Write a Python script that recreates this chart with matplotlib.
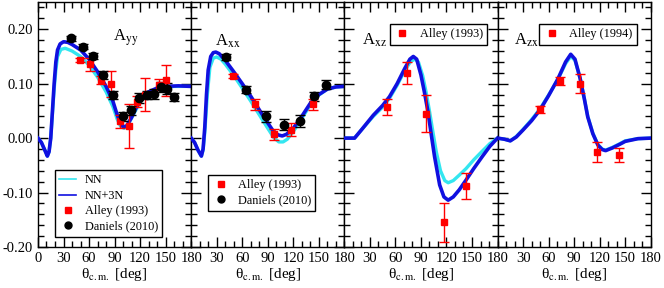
import numpy as np
import matplotlib
matplotlib.use("Agg")
import matplotlib.pyplot as plt
from matplotlib.ticker import MultipleLocator
from matplotlib.lines import Line2D

plt.rcParams['font.family'] = ['Liberation Serif', 'DejaVu Serif']
plt.rcParams['mathtext.fontset'] = 'stix'

# ---- theory curves ----
# A_yy
yy_th = [0, 4, 8, 11, 13, 15, 17, 19, 21, 23, 26, 30, 35, 40, 50, 60, 70, 80, 88, 92, 96,
         100, 104, 110, 115, 120, 130, 140, 150, 165, 180]
yy_3n = [0.0, -0.008, -0.022, -0.033, -0.025, 0.0, 0.05, 0.10, 0.14, 0.162, 0.173, 0.177, 0.176,
         0.172, 0.162, 0.145, 0.122, 0.095, 0.068, 0.048, 0.030, 0.021, 0.022, 0.038, 0.055,
         0.068, 0.085, 0.092, 0.095, 0.096, 0.095]
yy_nn_th = [0, 4, 8, 11, 13, 15, 17, 19, 21, 23, 27, 32, 40, 50, 60, 70, 80, 88, 93, 97, 101,
            105, 110, 120, 130, 140, 160, 180]
yy_nn = [0.0, -0.008, -0.022, -0.033, -0.025, 0.0, 0.045, 0.09, 0.125, 0.15, 0.163, 0.165, 0.160,
         0.150, 0.134, 0.112, 0.085, 0.058, 0.035, 0.022, 0.018, 0.022, 0.037, 0.066, 0.083,
         0.091, 0.095, 0.095]

# A_xx
xx_th = [0, 4, 8, 12, 14, 16, 18, 20, 23, 26, 29, 33, 40, 50, 60, 70, 80, 90, 96, 102, 107,
         112, 120, 130, 140, 150, 160, 170, 180]
xx_3n = [0.0, -0.008, -0.022, -0.033, -0.02, 0.02, 0.08, 0.125, 0.15, 0.157, 0.158, 0.155, 0.143,
         0.122, 0.100, 0.077, 0.052, 0.028, 0.014, 0.006, 0.004, 0.007, 0.018, 0.040, 0.064,
         0.080, 0.090, 0.094, 0.095]
xx_nn_th = [0, 4, 8, 12, 14, 16, 19, 22, 26, 30, 35, 40, 50, 60, 70, 80, 90, 97, 103, 108,
            113, 120, 130, 140, 150, 160, 170, 180]
xx_nn = [0.0, -0.008, -0.022, -0.033, -0.022, 0.01, 0.08, 0.13, 0.147, 0.149, 0.145, 0.136,
         0.115, 0.092, 0.068, 0.043, 0.018, 0.001, -0.007, -0.007, -0.002, 0.012, 0.036, 0.061,
         0.079, 0.090, 0.094, 0.095]

# A_xz
xz_th = [0, 6, 12, 20, 34, 45, 53, 62, 71, 77, 81, 85, 90, 94, 98, 102, 106, 112, 117, 122,
         128, 135, 143, 152, 162, 171, 180]
xz_3n = [0.0, 0.0, 0.0, 0.015, 0.042, 0.060, 0.076, 0.100, 0.128, 0.145, 0.150, 0.145, 0.116,
         0.085, 0.051, 0.008, -0.034, -0.086, -0.108, -0.114, -0.108, -0.095, -0.077, -0.056,
         -0.034, -0.015, 0.0]
xz_nn_th = [0, 6, 12, 20, 34, 45, 53, 62, 71, 78, 83, 87, 92, 96, 100, 104, 108, 113, 118,
            122, 128, 135, 143, 152, 162, 171, 180]
xz_nn = [0.0, 0.0, 0.0, 0.015, 0.040, 0.057, 0.073, 0.097, 0.124, 0.141, 0.145, 0.140, 0.115,
         0.085, 0.050, 0.012, -0.025, -0.060, -0.078, -0.082, -0.078, -0.068, -0.056, -0.040,
         -0.024, -0.010, 0.0]

# A_zx
zx_th = [0, 8, 15, 22, 30, 40, 50, 60, 71, 80, 86, 91, 97, 102, 106, 112, 118, 123, 127,
         135, 144, 150, 165, 180]
zx_3n = [0.0, -0.002, -0.005, 0.002, 0.015, 0.032, 0.052, 0.078, 0.109, 0.140, 0.154, 0.145,
         0.110, 0.072, 0.039, 0.008, -0.013, -0.021, -0.023, -0.018, -0.011, -0.006, -0.001, 0.0]
zx_nn = [0.0, -0.002, -0.005, 0.003, 0.016, 0.034, 0.054, 0.079, 0.108, 0.137, 0.150, 0.143,
         0.110, 0.073, 0.040, 0.009, -0.012, -0.020, -0.022, -0.017, -0.010, -0.005, -0.001, 0.0]

# ---- data ----
alley_yy_x = [49, 61.6, 74.4, 86, 95.8, 106.4, 116.5, 126, 142.5, 150.4]
alley_yy_y = [0.143, 0.136, 0.107, 0.099, 0.031, 0.022, 0.067, 0.080, 0.098, 0.106]
alley_yy_e = [0.004, 0.012, 0.008, 0.024, 0.012, 0.040, 0.010, 0.031, 0.010, 0.029]
dan_yy_x = [39.3, 53, 64.6, 76.3, 88, 99.7, 109.5, 119, 127.7, 136.7, 144.5, 151.5, 159.3]
dan_yy_y = [0.183, 0.168, 0.151, 0.116, 0.079, 0.040, 0.051, 0.074, 0.079, 0.081, 0.094, 0.091, 0.076]
dan_yy_e = [0.004, 0.004, 0.005, 0.007, 0.007, 0.008, 0.008, 0.009, 0.008, 0.010, 0.009, 0.010, 0.007]

alley_xx_x = [49.4, 74.5, 97.3, 117.4, 142.7]
alley_xx_y = [0.114, 0.062, 0.007, 0.015, 0.062]
alley_xx_e = [0.004, 0.010, 0.010, 0.012, 0.010]
dan_xx_x = [40.8, 64.8, 88.2, 109.6, 127.9, 144.7, 159]
dan_xx_y = [0.149, 0.089, 0.040, 0.025, 0.031, 0.077, 0.098]
dan_xx_e = [0.006, 0.006, 0.010, 0.011, 0.011, 0.008, 0.008]

alley_xz_x = [49.6, 74.2, 96.5, 117.3, 142.8]
alley_xz_y = [0.057, 0.120, 0.045, -0.155, -0.088]
alley_xz_e = [0.015, 0.020, 0.034, 0.035, 0.024]

alley_zx_x = [49.6, 73.9, 96.6, 116.9, 142.8]
alley_zx_y = [0.053, 0.105, 0.100, -0.026, -0.031]
alley_zx_e = [0.006, 0.008, 0.017, 0.018, 0.012]

panels = [
    (yy_th, yy_3n, yy_nn_th, yy_nn),
    (xx_th, xx_3n, xx_nn_th, xx_nn),
    (xz_th, xz_3n, xz_nn_th, xz_nn),
    (zx_th, zx_3n, zx_th, zx_nn),
]

CYAN = '#33e6f0'
BLUE = '#1010e0'
RED = '#ff0000'

fig, axes = plt.subplots(1, 4, figsize=(6.64, 2.88), dpi=100, sharey=True)
fig.subplots_adjust(left=0.0572, right=0.980, bottom=0.1424, top=0.993, wspace=0)


def draw_points(ax, x, y, e, color, marker, ms):
    ax.errorbar(x, y, yerr=e, fmt=marker, color=color, ms=ms, mec=color, ecolor=color,
                elinewidth=1.0, capsize=3.5, capthick=1.0, zorder=5)


for i, (ax, (t3, v3, tn, vn)) in enumerate(zip(axes, panels)):
    ax.plot(tn, vn, color=CYAN, lw=2.4, zorder=2)
    ax.plot(t3, v3, color=BLUE, lw=2.6, zorder=3)
    ax.set_xlim(0, 180)
    ax.set_ylim(-0.2, 0.25)
    ax.xaxis.set_major_locator(MultipleLocator(30))
    ax.xaxis.set_minor_locator(MultipleLocator(10))
    ax.yaxis.set_major_locator(MultipleLocator(0.1))
    ax.yaxis.set_minor_locator(MultipleLocator(0.02))
    ax.tick_params(which='both', direction='in', top=True, right=True, labelsize=10.5,
                   width=1.0)
    ax.tick_params(which='major', length=7)
    ax.tick_params(which='minor', length=4)
    for s in ax.spines.values():
        s.set_linewidth(1.0)
    ax.set_xlabel('θ$_{\\rm c.m.}$ [deg]', fontsize=11, labelpad=1)
    if i == 0:
        ax.set_xticks([0, 30, 60, 90, 120, 150, 180])
    else:
        ax.set_xticks([30, 60, 90, 120, 150, 180])

axes[0].yaxis.set_major_formatter(plt.FuncFormatter(lambda v, p: '%.2f' % v))

# points
draw_points(axes[0], alley_yy_x, alley_yy_y, alley_yy_e, RED, 's', 5)
draw_points(axes[0], dan_yy_x, dan_yy_y, dan_yy_e, 'black', 'o', 6)
draw_points(axes[1], alley_xx_x, alley_xx_y, alley_xx_e, RED, 's', 5)
draw_points(axes[1], dan_xx_x, dan_xx_y, dan_xx_e, 'black', 'o', 6)
draw_points(axes[2], alley_xz_x, alley_xz_y, alley_xz_e, RED, 's', 5)
draw_points(axes[3], alley_zx_x, alley_zx_y, alley_zx_e, RED, 's', 5)

leg_kw = dict(frameon=True, fancybox=False, framealpha=1, edgecolor='black', fontsize=8.8,
              handlelength=1.4, borderpad=0.35, labelspacing=0.28, handletextpad=0.7,
              borderaxespad=0)

hnn = Line2D([], [], color=CYAN, lw=1.2)
h3n = Line2D([], [], color=BLUE, lw=1.2)
hal = Line2D([], [], color=RED, marker='s', ls='none', ms=4.5)
hda = Line2D([], [], color='black', marker='o', ls='none', ms=5)

legs = []
legs.append(axes[0].legend([hnn, h3n, hal, hda], ['NN', 'NN+3N', 'Alley (1993)', 'Daniels (2010)'],
                           loc='lower left', bbox_to_anchor=(0.11, 0.041), **leg_kw))
legs.append(axes[1].legend([hal, hda], ['Alley (1993)', 'Daniels (2010)'],
                           loc='lower left', bbox_to_anchor=(0.11, 0.147), **leg_kw))
legs.append(axes[2].legend([hal], ['Alley (1993)'], loc='upper right',
                           bbox_to_anchor=(0.931, 0.910), **leg_kw))
legs.append(axes[3].legend([hal], ['Alley (1994)'], loc='upper right',
                           bbox_to_anchor=(0.908, 0.910), **leg_kw))
for leg in legs:
    leg.get_frame().set_linewidth(1.0)
    leg.set_zorder(6)

# panel labels (drawn above the legends)
axes[0].text(88, 0.18, r'A$_{\rm yy}$', fontsize=12, zorder=10)
axes[1].text(28, 0.17, r'A$_{\rm xx}$', fontsize=12, zorder=10)
axes[2].text(21, 0.172, r'A$_{\rm xz}$', fontsize=12, zorder=10)
axes[3].text(19.5, 0.172, r'A$_{\rm zx}$', fontsize=12, zorder=10)

fig.savefig('out.png', dpi=100)
